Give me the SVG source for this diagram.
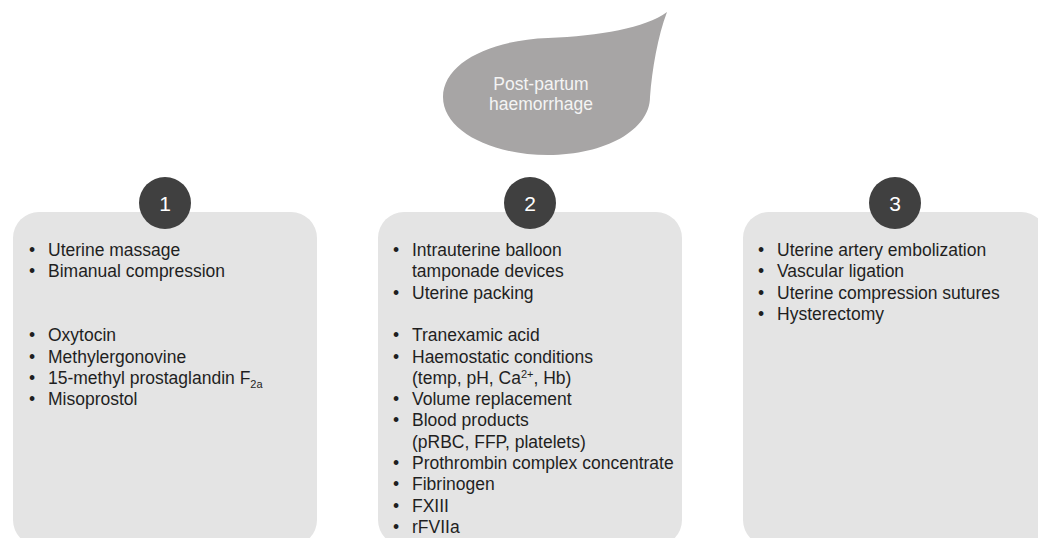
<svg xmlns="http://www.w3.org/2000/svg" width="1038" height="538" viewBox="0 0 1038 538">
<style>
.box{fill:#e4e4e4}
.num{fill:#404040}
.numt{font-family:"Liberation Sans",Arial,sans-serif;font-size:21px;fill:#ffffff;text-anchor:middle}
.t{font-family:"Liberation Sans",Arial,sans-serif;font-size:17.5px;fill:#1f1f1f}
.drop{fill:#a7a5a5}
.dt{font-family:"Liberation Sans",Arial,sans-serif;font-size:17.5px;fill:#f4f4f4;text-anchor:middle}
.s{font-size:11px}
</style>
<rect width="1038" height="538" fill="#ffffff"/>
<g id="connectors"/>
<g id="pph">
<path class="drop" d="M667,12 C658,35 652,70 650,97 C650,130 605,155 548,155 C490,155 443,130 443,97 C443,63 490,40 548,38 C600,36 645,28 667,12 Z"/>
<text class="dt" x="541" y="90">Post-partum</text>
<text class="dt" x="541" y="110">haemorrhage</text>
</g>
<g id="stage1">
<rect class="box" x="13" y="212" width="304" height="334" rx="26"/>
<circle class="num" cx="165" cy="203" r="26"/>
<text class="numt" x="165" y="211">1</text>
<g class="t">
<text x="29" y="256">•</text><text x="48" y="256">Uterine massage</text>
<text x="29" y="277.3">•</text><text x="48" y="277.3">Bimanual compression</text>
<text x="29" y="341.2">•</text><text x="48" y="341.2">Oxytocin</text>
<text x="29" y="362.5">•</text><text x="48" y="362.5">Methylergonovine</text>
<text x="29" y="383.8">•</text><text x="48" y="383.8">15-methyl prostaglandin F<tspan class="s" dy="4">2a</tspan></text>
<text x="29" y="405.1">•</text><text x="48" y="405.1">Misoprostol</text>
</g>
</g>
<g id="stage2">
<rect class="box" x="378" y="212" width="304" height="334" rx="26"/>
<circle class="num" cx="530" cy="203" r="26"/>
<text class="numt" x="530" y="211">2</text>
<g class="t">
<text x="393" y="256">•</text><text x="412" y="256">Intrauterine balloon</text>
<text x="412" y="277.3">tamponade devices</text>
<text x="393" y="298.6">•</text><text x="412" y="298.6">Uterine packing</text>
<text x="393" y="341.2">•</text><text x="412" y="341.2">Tranexamic acid</text>
<text x="393" y="362.5">•</text><text x="412" y="362.5">Haemostatic conditions</text>
<text x="412" y="383.8">(temp, pH, Ca<tspan class="s" dy="-6">2+</tspan><tspan dy="6">, Hb)</tspan></text>
<text x="393" y="405.1">•</text><text x="412" y="405.1">Volume replacement</text>
<text x="393" y="426.4">•</text><text x="412" y="426.4">Blood products</text>
<text x="412" y="447.7">(pRBC, FFP, platelets)</text>
<text x="393" y="469">•</text><text x="412" y="469">Prothrombin complex concentrate</text>
<text x="393" y="490.3">•</text><text x="412" y="490.3">Fibrinogen</text>
<text x="393" y="511.6">•</text><text x="412" y="511.6">FXIII</text>
<text x="393" y="532.9">•</text><text x="412" y="532.9">rFVIIa</text>
</g>
</g>
<g id="stage3">
<rect class="box" x="743" y="212" width="304" height="334" rx="26"/>
<circle class="num" cx="895" cy="203" r="26"/>
<text class="numt" x="895" y="211">3</text>
<g class="t">
<text x="758" y="256">•</text><text x="777" y="256">Uterine artery embolization</text>
<text x="758" y="277.3">•</text><text x="777" y="277.3">Vascular ligation</text>
<text x="758" y="298.6">•</text><text x="777" y="298.6">Uterine compression sutures</text>
<text x="758" y="319.9">•</text><text x="777" y="319.9">Hysterectomy</text>
</g>
</g>
</svg>
